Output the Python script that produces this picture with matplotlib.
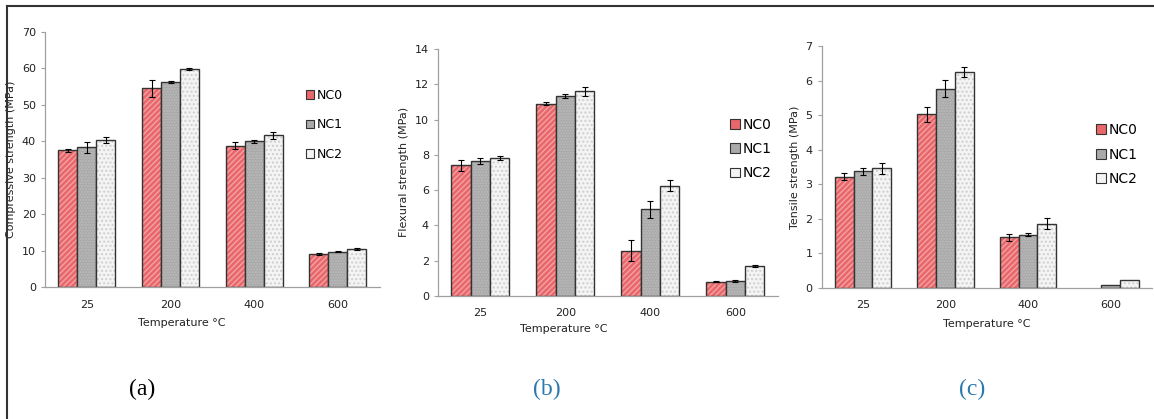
#!/usr/bin/env python3
import numpy as np
import matplotlib
matplotlib.use("Agg")
import matplotlib.pyplot as plt
from matplotlib.lines import Line2D

temps = ["25", "200", "400", "600"]
series = ["NC0", "NC1", "NC2"]

# (a) compressive strength, MPa
comp = [[37.5, 54.5, 38.8, 9.1],
        [38.3, 56.2, 40.0, 9.7],
        [40.3, 59.7, 41.6, 10.4]]
comp_err = [[0.4, 2.3, 0.9, 0.3],
            [1.5, 0.3, 0.4, 0.2],
            [0.8, 0.3, 1.0, 0.2]]

# (b) flexural strength, MPa
flex = [[7.4, 10.9, 2.55, 0.8],
        [7.65, 11.35, 4.9, 0.85],
        [7.8, 11.6, 6.25, 1.68]]
flex_err = [[0.3, 0.08, 0.6, 0.02],
            [0.15, 0.12, 0.5, 0.07],
            [0.12, 0.25, 0.3, 0.06]]

# (c) tensile strength, MPa
tens = [[3.22, 5.03, 1.47, 0.0],
        [3.37, 5.77, 1.54, 0.08],
        [3.46, 6.25, 1.86, 0.24]]
tens_err = [[0.1, 0.22, 0.1, 0.0],
            [0.1, 0.25, 0.05, 0.0],
            [0.15, 0.15, 0.15, 0.0]]

fills = ["#e9676a", "#a9a9a9", "#f4f4f4"]
hatch_cols = ["#f3a2a3", "#bcbcbc", "#cfcfcf"]
hatches = ["//////", "......", "...."]


def draw(ax, vals, errs, ylabel, ymax, ystep, leg_anchor, leg_fs, leg_sp, xlab_xy, fs_tick):
    x = np.arange(len(temps))
    w = 0.227
    handles = []
    for i in range(3):
        pos = x + (i - 1) * w
        v = np.array(vals[i])
        ax.bar(pos, v, w, color=fills[i], edgecolor=hatch_cols[i],
               hatch=hatches[i], linewidth=0)
        lw = np.where(v > 0, 1.0, 0.0)
        ax.bar(pos, v, w, fill=False, edgecolor="#333333", linewidth=lw)
        e = np.array(errs[i])
        ok = e > 0
        ax.errorbar(pos[ok], v[ok], yerr=e[ok], fmt="none", ecolor="black",
                    elinewidth=0.8, capsize=2, capthick=0.8)
        handles.append(plt.Rectangle((0, 0), 1, 1, facecolor=fills[i],
                                     edgecolor="#333333", linewidth=0.8))
    ax.set_xlim(-0.5, 3.5)
    ax.set_ylim(0, ymax)
    ax.set_yticks(np.arange(0, ymax + 0.01, ystep))
    ax.set_xticks(x)
    ax.set_xticklabels(temps)
    for s in ["top", "right"]:
        ax.spines[s].set_visible(False)
    for s in ["left", "bottom"]:
        ax.spines[s].set_color("#a0a0a0")
        ax.spines[s].set_linewidth(0.9)
    ax.tick_params(axis="x", length=0, labelsize=fs_tick, pad=9, colors="#222222")
    ax.tick_params(axis="y", length=3, color="#a0a0a0", labelsize=fs_tick, colors="#222222")
    ax.set_ylabel(ylabel, fontsize=fs_tick, color="#222222")
    ax.set_xlabel("Temperature \u00b0C", fontsize=fs_tick, color="#222222")
    ax.xaxis.set_label_coords(*xlab_xy)
    ax.legend(handles, series, loc="upper left", bbox_to_anchor=leg_anchor,
              frameon=False, fontsize=leg_fs, handlelength=0.7, handleheight=0.7,
              handletextpad=0.2, labelspacing=leg_sp, borderpad=0)


fig = plt.figure(figsize=(11.54, 4.19), dpi=100)
ax1 = fig.add_axes([0.039, 0.315, 0.290, 0.609])
ax2 = fig.add_axes([0.3795, 0.294, 0.2945, 0.589])
ax3 = fig.add_axes([0.712, 0.313, 0.286, 0.577])

draw(ax1, comp, comp_err, "Compressive strength (MPa)", 70, 10,
     (0.76, 0.80), 9, 1.3, (0.41, -0.12), 8)
draw(ax2, flex, flex_err, "Flexural strength (MPa)", 14, 2,
     (0.84, 0.75), 10, 0.75, (0.37, -0.115), 8)
draw(ax3, tens, tens_err, "Tensile strength (MPa)", 7, 1,
     (0.81, 0.71), 10, 0.75, (0.5, -0.13), 8)

# panel letters
fig.text(0.123, 0.057, "(a)", family="Liberation Serif", fontsize=17, color="black", ha="center")
fig.text(0.474, 0.057, "(b)", family="Liberation Serif", fontsize=17, color="#2a78b0", ha="center")
fig.text(0.842, 0.057, "(c)", family="Liberation Serif", fontsize=17, color="#2a78b0", ha="center")

# frame lines at top and left
fig.add_artist(Line2D([0.006, 1.0], [0.986, 0.986], transform=fig.transFigure,
                      color="#333333", linewidth=1.5))
fig.add_artist(Line2D([0.006, 0.006], [0.0, 0.986], transform=fig.transFigure,
                      color="#333333", linewidth=1.5))

fig.savefig("out.png", dpi=100)
